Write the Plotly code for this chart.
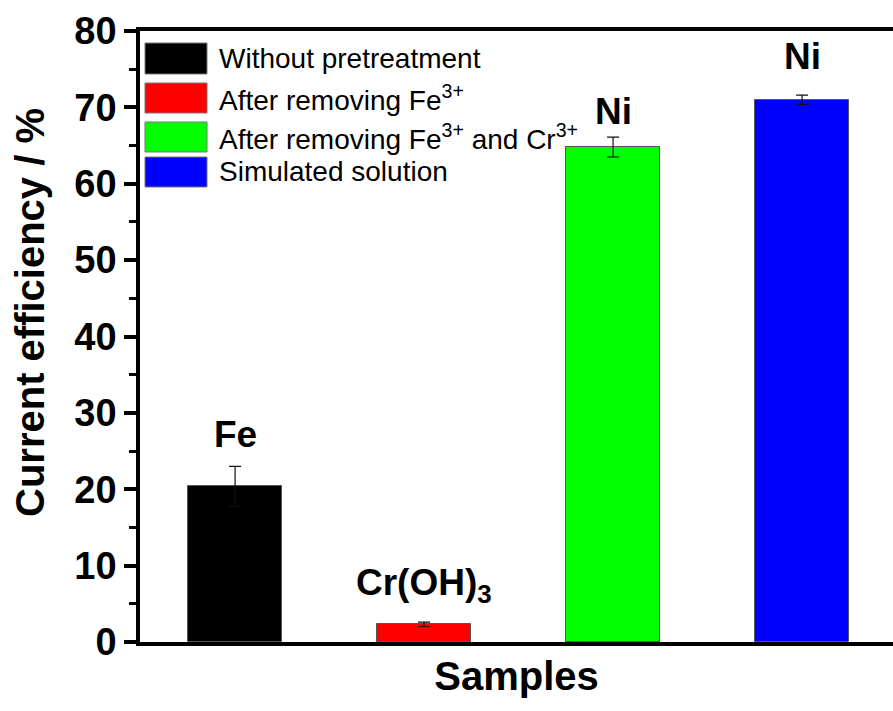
import plotly.graph_objects as go

# Sample series and measured current efficiency (%)
samples = ["Without pretreatment", "After removing Fe<sup>3+</sup>",
           "After removing Fe<sup>3+</sup> and Cr<sup>3+</sup>", "Simulated solution"]
efficiency = [20.4, 2.3, 64.8, 71.0]
efficiency_err = [2.6, 0.3, 1.3, 0.6]
deposit_labels = ["Fe", "Cr(OH)<sub>3</sub>", "Ni", "Ni"]
bar_colors = ["#000000", "#ff0000", "#00ff00", "#0000ff"]

positions = [1, 2, 3, 4]
label_y = [27.2, 7.4, 69.4, 76.6]

FONT = "Arial, 'Liberation Sans', sans-serif"

# plot area in pixels: left 140, right 893, top 31, bottom 642
PX_L, PX_W, PX_B, PX_H = 140.0, 753.0, 642.0, 611.0

fig = go.Figure()
for pos, name, val, err, col in zip(positions, samples, efficiency, efficiency_err, bar_colors):
    fig.add_trace(go.Bar(
        x=[pos], y=[val], name=name, width=0.5,
        marker=dict(color=col, line=dict(color="#555555", width=1)),
        error_y=dict(type="data", array=[err], visible=True,
                     color="#111111", thickness=1.2, width=6),
        showlegend=False,
    ))

# Labels naming the deposit formed in each case
for pos, lab, ly in zip(positions, deposit_labels, label_y):
    fig.add_annotation(x=pos, y=ly, text=f"<b>{lab}</b>", showarrow=False,
                       xanchor="center", yanchor="middle",
                       font=dict(family=FONT, size=37, color="black"))

# Legend drawn as large swatches with text
legend_rows = [(43, 74), (83, 113), (122, 152), (157, 187)]
for (y0, y1), name, col in zip(legend_rows, samples, bar_colors):
    fig.add_shape(type="rect", xref="paper", yref="paper",
                  x0=(145 - PX_L) / PX_W, x1=(207 - PX_L) / PX_W,
                  y0=(PX_B - y1) / PX_H, y1=(PX_B - y0) / PX_H,
                  fillcolor=col, line=dict(color="#777777", width=1))
    fig.add_annotation(xref="paper", yref="paper",
                       x=(217 - PX_L) / PX_W, y=(PX_B - (y0 + y1) / 2) / PX_H,
                       text=name, showarrow=False, xanchor="left", yanchor="middle",
                       font=dict(family=FONT, size=28, color="black"))

# Y-axis title
fig.add_annotation(xref="paper", yref="paper",
                   x=(30 - PX_L) / PX_W, y=(PX_B - 313) / PX_H,
                   text="<b>Current efficiency / %</b>", textangle=-90,
                   showarrow=False, xanchor="center", yanchor="middle",
                   font=dict(family=FONT, size=40, color="black"))

fig.update_layout(
    width=893, height=711,
    margin=dict(l=140, r=0, t=31, b=69),
    paper_bgcolor="white", plot_bgcolor="white",
    bargap=0,
    xaxis=dict(range=[0.497, 4.481], showticklabels=False, ticks="",
               showline=True, linecolor="black", linewidth=3.5, mirror=True,
               showgrid=False, zeroline=False,
               title=dict(text="<b>Samples</b>", standoff=18,
                          font=dict(family=FONT, size=40, color="black"))),
    yaxis=dict(range=[0, 80], dtick=10, tickmode="linear",
               ticks="outside", ticklen=12, tickwidth=3.5, tickcolor="black",
               minor=dict(ticks="outside", ticklen=7, tickwidth=3, dtick=5,
                          tickcolor="black", showgrid=False),
               showline=True, linecolor="black", linewidth=3.5,
               showgrid=False, zeroline=False,
               tickfont=dict(family=FONT, size=38, color="black"),
               tickprefix="<b>", ticksuffix="</b>"),
)

fig.write_html("out.html")
